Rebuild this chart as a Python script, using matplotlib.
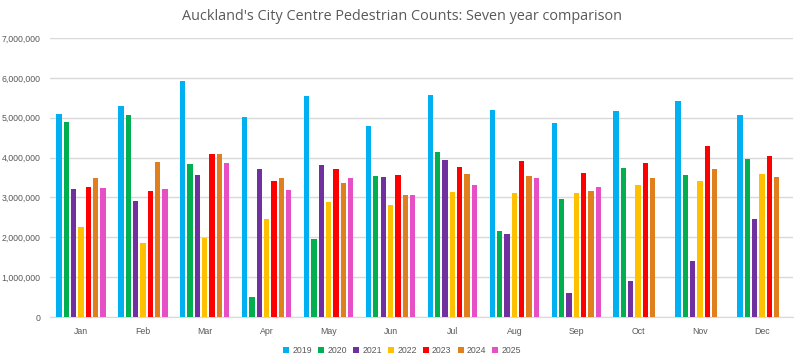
import numpy as np
import matplotlib
matplotlib.use('Agg')
import matplotlib.pyplot as plt
from matplotlib.ticker import FuncFormatter

# Monthly pedestrian counts (millions)
months = ['Jan', 'Feb', 'Mar', 'Apr', 'May', 'Jun',
          'Jul', 'Aug', 'Sep', 'Oct', 'Nov', 'Dec']
years = ['2019', '2020', '2021', '2022', '2023', '2024', '2025']

y2019 = [5.09, 5.29, 5.91, 5.03, 5.55, 4.80, 5.57, 5.20, 4.87, 5.18, 5.41, 5.06]
y2020 = [4.90, 5.08, 3.83, 0.49, 1.95, 3.53, 4.14, 2.15, 2.95, 3.74, 3.56, 3.96]
y2021 = [3.21, 2.91, 3.56, 3.72, 3.81, 3.51, 3.93, 2.08, 0.60, 0.90, 1.41, 2.45]
y2022 = [2.25, 1.85, 1.99, 2.45, 2.89, 2.82, 3.14, 3.10, 3.12, 3.32, 3.42, 3.58]
y2023 = [3.26, 3.15, 4.09, 3.42, 3.72, 3.56, 3.77, 3.91, 3.62, 3.86, 4.30, 4.03]
y2024 = [3.50, 3.88, 4.09, 3.49, 3.37, 3.05, 3.60, 3.53, 3.16, 3.49, 3.72, 3.52]
y2025 = [3.24, 3.21, 3.86, 3.19, 3.49, 3.07, 3.31, 3.49, 3.26, np.nan, np.nan, np.nan]

series = [y2019, y2020, y2021, y2022, y2023, y2024, y2025]
colors = ['#00B0F0', '#00B050', '#7030A0', '#FFC000', '#FF0000', '#E07F1E', '#E64FC6']

plt.rcParams['font.family'] = ['Liberation Sans', 'DejaVu Sans']

fig = plt.figure(figsize=(8.04, 3.6), dpi=100)
ax = fig.add_axes([0.0622, 0.1194, 0.924, 0.775])

x = np.arange(len(months))
step = 0.1185
w = 0.086
for i, vals in enumerate(series):
    v = np.array(vals) * 1e6
    ax.bar(x + (i - 3) * step, v, width=w, color=colors[i], label=years[i], zorder=3)

ax.set_xlim(-0.5, 11.5)
ax.set_ylim(0, 7e6)
ax.set_yticks(np.arange(0, 7e6 + 1, 1e6))
ax.yaxis.set_major_formatter(FuncFormatter(lambda v, p: f'{int(v):,}'))
ax.set_xticks(x)
ax.set_xticklabels(months)
ax.grid(axis='y', color='#D9D9D9', linewidth=1, zorder=0)
for s in ['top', 'right', 'left']:
    ax.spines[s].set_visible(False)
ax.spines['bottom'].set_color('#D9D9D9')
ax.tick_params(axis='y', length=0, labelsize=6.3, colors='#595959', pad=7)
ax.tick_params(axis='x', length=0, labelsize=6.3, colors='#595959', pad=7)

fig.suptitle("Auckland's City Centre Pedestrian Counts: Seven year comparison",
             x=0.5, y=0.975, fontsize=10.4, color='#595959', family='Open Sans')

ax.legend(loc='upper center', bbox_to_anchor=(0.474, -0.075), ncol=7, frameon=False,
          fontsize=6.3, handlelength=0.7, handleheight=0.7, handletextpad=0.35,
          columnspacing=0.7, labelcolor='#595959')

fig.savefig('out.png', dpi=100)
